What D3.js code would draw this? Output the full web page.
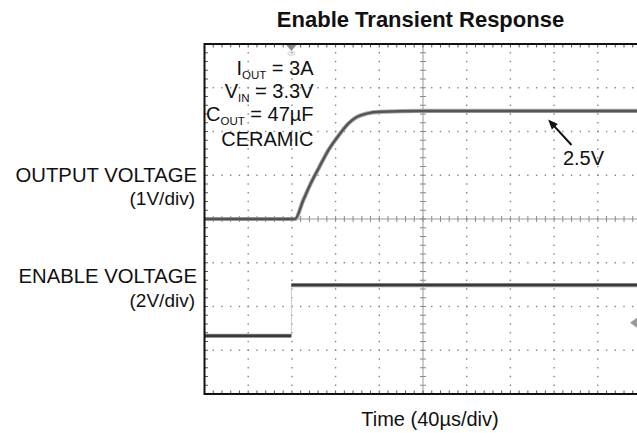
<!DOCTYPE html>
<html><head><meta charset="utf-8">
<script src="https://cdn.jsdelivr.net/npm/d3@7"></script>
<style>html,body{margin:0;padding:0;background:#fff;overflow:hidden}</style>
</head><body>
<script>
// ---- data ----
const title = "Enable Transient Response";
const xLabel = "Time (40µs/div)";
const timePerDiv = 40; // µs
const nDivX = 10, nDivY = 8;
// Output voltage (channel 1, 1V/div), time in µs, value in V
const outTime  = [0, 82.8, 90.4, 97.2, 105.1, 113.3, 124.0, 131.6, 139.3, 148.5, 160.6, 200, 300, 400];
const outValue = [0, 0,    0.43, 0.81, 1.19,  1.57,  1.95,  2.18,  2.33,  2.41,  2.45,  2.47, 2.47, 2.47];
// Enable voltage (channel 2, 2V/div)
const enTime  = [0, 79.5, 79.5, 400];
const enValue = [0, 0,    2.32, 2.32];
const outVoltsPerDiv = 1, enVoltsPerDiv = 2;
const outGroundDiv = 0, enGroundDiv = -2.67;
const trigLevel = 0.6; // V on enable channel
const trigTime = 79.5;
const annotLines = [["I","OUT"," = 3A"],["V","IN"," = 3.3V"],["C","OUT"," = 47µF"],["CERAMIC","",""]];
const channelLabels = [["OUTPUT VOLTAGE","(1V/div)"],["ENABLE VOLTAGE","(2V/div)"]];
const levelLabel = "2.5V";

(function(){
// ---- layout ----
const W = 637, H = 433;
const pL = 204.5, pT = 44, div = 43.7, divY = 43.75;
const pR = pL + nDivX*div, pB = pT + nDivY*divY;
const font = "'Liberation Sans', Arial, Helvetica, sans-serif";

const svg = d3.select("body").append("svg").attr("width", W).attr("height", H)
  .style("font-family", font);

const x = d3.scaleLinear().domain([0, nDivX*timePerDiv]).range([pL, pR]);
const y = d3.scaleLinear().domain([-nDivY/2, nDivY/2]).range([pB, pT]);

svg.append("defs").append("clipPath").attr("id","clip")
  .append("rect").attr("x", pL).attr("y", pT).attr("width", pR-pL).attr("height", pB-pT);

const g = svg.append("g");

// dotted grid
const sub = d3.range(0, nDivY*5+1).map(i => -nDivY/2 + i/5);
const subX = d3.range(0, nDivX*5+1).map(i => i*timePerDiv/5);
for (let i = 1; i < nDivX; i++) {
  if (i === nDivX/2) continue;
  const t = i*timePerDiv;
  g.selectAll(null).data(sub).join("rect")
    .attr("x", x(t)-0.7).attr("y", d => y(d)-0.7).attr("width", 1.4).attr("height", 1.4).attr("fill", "#808080");
}
for (let j = 1; j < nDivY; j++) {
  if (j === nDivY/2) continue;
  const v = -nDivY/2 + j;
  g.selectAll(null).data(subX).join("rect")
    .attr("x", d => x(d)-0.7).attr("y", y(v)-0.7).attr("width", 1.4).attr("height", 1.4).attr("fill", "#808080");
}
// center axes with ticks
const cx = x(nDivX/2*timePerDiv), cy = y(0);
g.append("line").attr("x1", pL).attr("x2", pR).attr("y1", cy).attr("y2", cy).attr("stroke", "#9a9a9a").attr("stroke-width", 1);
g.append("line").attr("x1", cx).attr("x2", cx).attr("y1", pT).attr("y2", pB).attr("stroke", "#9a9a9a").attr("stroke-width", 1);
g.selectAll(null).data(subX).join("line")
  .attr("x1", d => x(d)).attr("x2", d => x(d)).attr("y1", cy-3).attr("y2", cy+3).attr("stroke", "#8a8a8a");
g.selectAll(null).data(sub).join("line")
  .attr("x1", cx-3).attr("x2", cx+3).attr("y1", d => y(d)).attr("y2", d => y(d)).attr("stroke", "#8a8a8a");
// border ticks
g.selectAll(null).data(subX).join("line")
  .attr("x1", d => x(d)).attr("x2", d => x(d)).attr("y1", pT).attr("y2", pT+3.5).attr("stroke", "#555");
g.selectAll(null).data(subX).join("line")
  .attr("x1", d => x(d)).attr("x2", d => x(d)).attr("y1", pB).attr("y2", pB-3.5).attr("stroke", "#555");
g.selectAll(null).data(sub).join("line")
  .attr("x1", pL).attr("x2", pL+3.5).attr("y1", d => y(d)).attr("y2", d => y(d)).attr("stroke", "#555");

// traces
const outPts = outTime.map((t,i) => [t, outGroundDiv + outValue[i]/outVoltsPerDiv]);
const enPts = enTime.map((t,i) => [t, enGroundDiv + enValue[i]/enVoltsPerDiv]);
const line = d3.line().x(d => x(d[0])).y(d => y(d[1])).curve(d3.curveMonotoneX);
const lineL = d3.line().x(d => x(d[0])).y(d => y(d[1]));
const tr = svg.append("g").attr("clip-path", "url(#clip)");
tr.append("path").attr("d", line(outPts)).attr("fill","none").attr("stroke","#aaa").attr("stroke-width",4.2).attr("stroke-linejoin","round");
tr.append("path").attr("d", line(outPts)).attr("fill","none").attr("stroke","#555").attr("stroke-width",2.4).attr("stroke-linejoin","round");
// enable: faint full path, thick flat segments
tr.append("path").attr("d", lineL(enPts)).attr("fill","none").attr("stroke","#c8c8c8").attr("stroke-width",1);
for (let i = 0; i < enPts.length-1; i++) {
  if (enPts[i][1] !== enPts[i+1][1]) continue;
  const seg = [enPts[i], enPts[i+1]];
  tr.append("path").attr("d", lineL(seg)).attr("fill","none").attr("stroke","#999").attr("stroke-width",4.2);
  tr.append("path").attr("d", lineL(seg)).attr("fill","none").attr("stroke","#3a3a3a").attr("stroke-width",2.4);
}

// border
svg.append("path")
  .attr("d", `M${pR+5},${pT}H${pL}V${pB}H${pR+5}`)
  .attr("fill","none").attr("stroke","#111").attr("stroke-width",2);

// trigger markers
const tx = x(trigTime);
svg.append("path").attr("d", `M${tx-5},${pT+1}L${tx+5},${pT+1}L${tx},${pT+7}Z`).attr("fill","#888");
svg.append("rect").attr("x", tx-3.5).attr("y", pT+8).attr("width", 7).attr("height", 3).attr("rx",1.5)
  .attr("fill","none").attr("stroke","#bbb").attr("stroke-width",0.8);
const ty = y(enGroundDiv + trigLevel/enVoltsPerDiv);
svg.append("path").attr("d", `M${W-7},${ty}L${W},${ty-5}L${W},${ty+5}Z`).attr("fill","#999");

// title & x label
svg.append("text").attr("x", 420.5).attr("y", 26.5).attr("text-anchor","middle")
  .attr("font-size", 22).attr("font-weight","bold").attr("fill","#111").text(title);
svg.append("text").attr("x", 430).attr("y", 425.5).attr("text-anchor","middle")
  .attr("font-size", 20).attr("fill","#111").text(xLabel);

// channel labels
const labY = [[181.5, 205], [282.7, 306.5]];
channelLabels.forEach((l, i) => {
  svg.append("text").attr("x", 197).attr("y", labY[i][0]).attr("text-anchor","end")
    .attr("font-size", 20.3).attr("fill","#111").text(l[0]);
  svg.append("text").attr("x", 195).attr("y", labY[i][1]).attr("text-anchor","end")
    .attr("font-size", 19).attr("fill","#111").text(l[1]);
});

// annotation block
const annY = [75, 98.3, 121, 145.5];
annotLines.forEach((l, i) => {
  const t = svg.append("text").attr("x", 313.5).attr("y", annY[i]).attr("text-anchor","end")
    .attr("font-size", 20).attr("fill","#111");
  t.append("tspan").text(l[0]);
  if (l[1]) {
    t.append("tspan").attr("font-size", 11.5).attr("dy", 4).text(l[1]);
    t.append("tspan").attr("dy", -4).text(l[2]);
  }
});

// 2.5V arrow + label
const ax = x(320), ay = y(outGroundDiv + outValue[outValue.length-1]/outVoltsPerDiv);
svg.append("text").attr("x", 583.5).attr("y", 165).attr("text-anchor","middle")
  .attr("font-size", 20).attr("fill","#111").text(levelLabel);
const tipX = ax - 6, tipY = ay + 8.5, tailX = 571.5, tailY = 145;
const ang = Math.atan2(tipY - tailY, tipX - tailX);
svg.append("line").attr("x1", tailX).attr("y1", tailY)
  .attr("x2", tipX - 6*Math.cos(ang)).attr("y2", tipY - 6*Math.sin(ang))
  .attr("stroke","#111").attr("stroke-width",2);
const ah = 10, aw = 4;
const bx = tipX - ah*Math.cos(ang), by = tipY - ah*Math.sin(ang);
svg.append("path").attr("d",
  `M${tipX},${tipY}L${bx + aw*Math.sin(ang)},${by - aw*Math.cos(ang)}L${bx - aw*Math.sin(ang)},${by + aw*Math.cos(ang)}Z`)
  .attr("fill","#111");
})();
</script>
</body></html>
